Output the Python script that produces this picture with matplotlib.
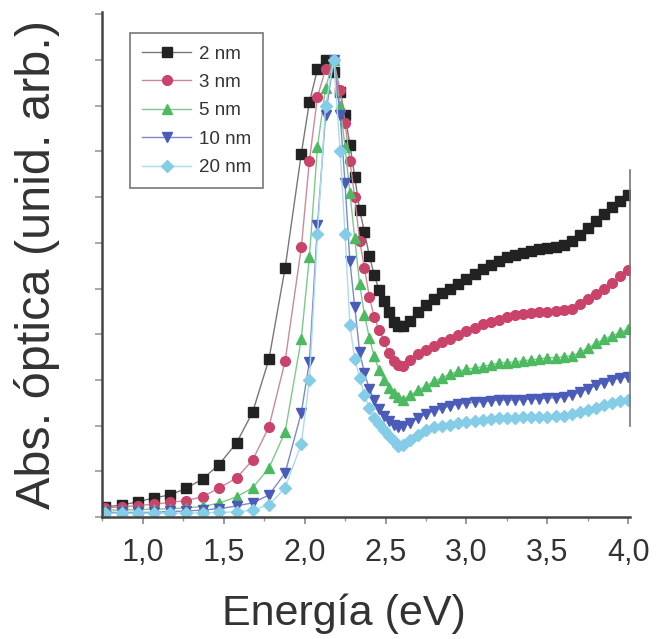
import matplotlib
matplotlib.use("Agg")
import matplotlib.pyplot as plt
from matplotlib.ticker import MultipleLocator, FuncFormatter

plt.rcParams['font.family'] = ['Liberation Sans', 'DejaVu Sans']

# energia (eV), rejilla comun a todas las curvas
energia = [0.77, 0.87, 0.97, 1.07, 1.17, 1.27, 1.37, 1.47, 1.58, 1.68, 1.78, 1.88, 1.98,
           2.03, 2.08, 2.13, 2.18,
           2.22, 2.25, 2.28, 2.31, 2.34, 2.37, 2.40, 2.43, 2.46, 2.49, 2.52, 2.55, 2.58, 2.61,
           2.65, 2.70, 2.75, 2.80, 2.85, 2.90, 2.95, 3.00, 3.05, 3.10, 3.15, 3.20, 3.25, 3.30,
           3.35, 3.40, 3.45, 3.50, 3.55, 3.60, 3.65, 3.70, 3.75, 3.80, 3.85, 3.90, 3.95, 4.00]

abs_2nm = [0.022, 0.026, 0.033, 0.042, 0.048, 0.063, 0.083, 0.114, 0.162, 0.230, 0.345, 0.545, 0.795,
           0.908, 0.980, 1.000, 0.975,
           0.930, 0.880, 0.815, 0.745, 0.672, 0.624, 0.572, 0.530, 0.497, 0.472, 0.448, 0.427, 0.418, 0.418,
           0.430, 0.448, 0.465, 0.478, 0.490, 0.500, 0.510, 0.520, 0.531, 0.542, 0.552, 0.561, 0.568, 0.574,
           0.578, 0.582, 0.586, 0.589, 0.592, 0.596, 0.604, 0.617, 0.632, 0.648, 0.663, 0.678, 0.692, 0.705]

abs_3nm = [0.020, 0.022, 0.025, 0.028, 0.032, 0.036, 0.044, 0.063, 0.085, 0.125, 0.197, 0.341, 0.590,
           0.780, 0.920, 0.980, 1.000,
           0.934, 0.862, 0.780, 0.700, 0.605, 0.545, 0.482, 0.438, 0.410, 0.386, 0.358, 0.342, 0.332, 0.330,
           0.343, 0.356, 0.366, 0.375, 0.382, 0.389, 0.398, 0.406, 0.414, 0.422, 0.427, 0.432, 0.438, 0.442,
           0.444, 0.446, 0.448, 0.449, 0.451, 0.452, 0.456, 0.467, 0.478, 0.488, 0.500, 0.512, 0.527, 0.540]

abs_5nm = [0.015, 0.015, 0.016, 0.017, 0.018, 0.020, 0.023, 0.030, 0.044, 0.064, 0.107, 0.186, 0.390,
           0.570, 0.810, 0.940, 1.000,
           0.900, 0.810, 0.710, 0.610, 0.510, 0.443, 0.392, 0.352, 0.322, 0.300, 0.282, 0.272, 0.263, 0.257,
           0.266, 0.277, 0.287, 0.297, 0.305, 0.313, 0.319, 0.323, 0.326, 0.329, 0.333, 0.337, 0.338, 0.339,
           0.342, 0.344, 0.346, 0.348, 0.349, 0.350, 0.353, 0.360, 0.370, 0.380, 0.389, 0.397, 0.404, 0.411]

abs_10nm = [0.010, 0.010, 0.010, 0.010, 0.012, 0.013, 0.015, 0.018, 0.024, 0.031, 0.048, 0.096, 0.228,
            0.340, 0.640, 0.880, 1.000,
            0.880, 0.730, 0.560, 0.460, 0.362, 0.315, 0.280, 0.255, 0.236, 0.220, 0.209, 0.202, 0.197, 0.199,
            0.206, 0.217, 0.226, 0.232, 0.238, 0.243, 0.247, 0.249, 0.251, 0.252, 0.254, 0.256, 0.256, 0.256,
            0.257, 0.258, 0.259, 0.260, 0.261, 0.262, 0.266, 0.273, 0.281, 0.288, 0.294, 0.300, 0.304, 0.307]

abs_20nm = [0.008, 0.008, 0.008, 0.008, 0.008, 0.009, 0.009, 0.010, 0.011, 0.015, 0.026, 0.064, 0.160,
            0.300, 0.620, 0.900, 1.000,
            0.800, 0.620, 0.420, 0.345, 0.305, 0.266, 0.238, 0.217, 0.203, 0.190, 0.178, 0.166, 0.156, 0.158,
            0.168, 0.180, 0.190, 0.196, 0.199, 0.202, 0.205, 0.208, 0.210, 0.212, 0.215, 0.217, 0.217, 0.217,
            0.218, 0.219, 0.219, 0.219, 0.221, 0.222, 0.226, 0.230, 0.234, 0.239, 0.244, 0.249, 0.253, 0.257]

etiquetas = ['2 nm', '3 nm', '5 nm', '10 nm', '20 nm']
series = [abs_2nm, abs_3nm, abs_5nm, abs_10nm, abs_20nm]
colores = ['#222222', '#c9436b', '#4dba62', '#4b5bb8', '#85cde6']
colores_linea = ['#777777', '#c98a9c', '#7dc98c', '#7d88c8', '#a9dcee']
marcadores = ['s', 'o', '^', 'v', 'D']
tamanos = [6.5, 7.0, 7.0, 7.0, 6.0]

fig = plt.figure(figsize=(6.59, 6.39), dpi=100)
ax = fig.add_axes([0.155, 0.191, 0.801, 0.790])

for y, lab, c, cl, m, ms in zip(series, etiquetas, colores, colores_linea, marcadores, tamanos):
    ax.plot(energia, y, color=cl, lw=1.0, marker=m, ms=ms, mfc=c, mec=c, label=lab)

ax.set_xlim(0.75, 4.01)
ax.set_ylim(0, 1.105)

ax.xaxis.set_major_locator(MultipleLocator(0.5))
ax.xaxis.set_minor_locator(MultipleLocator(0.25))
ax.xaxis.set_major_formatter(FuncFormatter(lambda v, p: f"{v:.1f}".replace('.', ',')))
ax.yaxis.set_major_locator(MultipleLocator(0.1))
ax.set_yticklabels([])

ax.tick_params(axis='x', which='major', direction='out', length=5, width=1.2,
               color='#888888', labelsize=22, labelcolor='#333333', pad=10)
ax.tick_params(axis='x', which='minor', direction='out', length=3, width=1.0, color='#999999')
ax.tick_params(axis='y', which='major', direction='out', length=5, width=1.2, color='#999999')

for s in ['left', 'bottom']:
    ax.spines[s].set_color('#444444')
    ax.spines[s].set_linewidth(1.8)
ax.spines['top'].set_visible(False)
ax.spines['right'].set_color('#777777')
ax.spines['right'].set_linewidth(1.2)
ax.spines['right'].set_bounds(0.2, 0.76)

ax.set_xlabel('Energía (eV)', fontsize=31, color='#333333')
ax.xaxis.set_label_coords(0.458, -0.152)
ax.set_ylabel('Abs. óptica (unid. arb.)', fontsize=35, color='#333333')
ax.yaxis.set_label_coords(-0.08, 0.5)

leg = ax.legend(loc='upper left', bbox_to_anchor=(0.053, 0.958), fontsize=13.5,
                frameon=True, fancybox=False, edgecolor='#777777', framealpha=1,
                handlelength=2.6, handletextpad=0.4, labelspacing=0.6, borderpad=0.65,
                borderaxespad=0)
leg.get_frame().set_linewidth(1.2)
for t in leg.get_texts():
    t.set_color('#333333')

fig.savefig('out.png', dpi=100)
